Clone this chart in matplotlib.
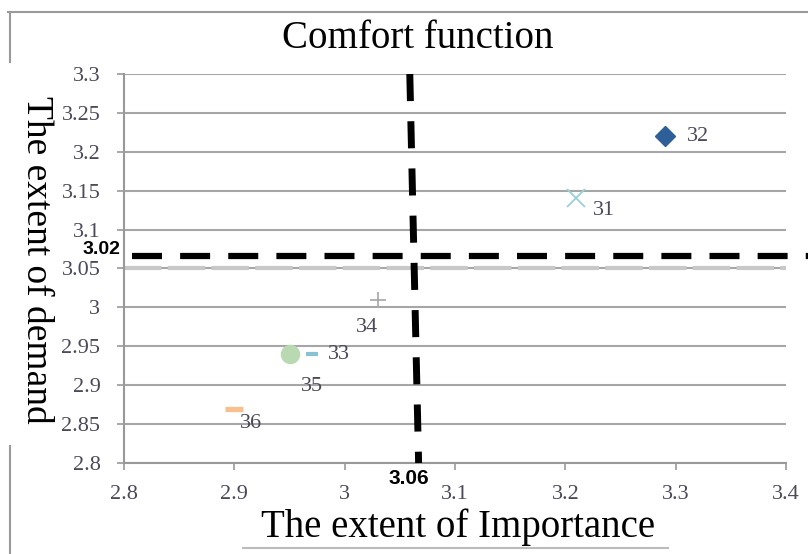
import matplotlib
matplotlib.use('Agg')
import matplotlib.pyplot as plt
from matplotlib.lines import Line2D

plt.rcParams['font.family'] = ['Liberation Serif', 'DejaVu Serif']

# data
ids = ['31', '32', '33', '34', '35', '36']
importance = [3.21, 3.29, 2.97, 3.03, 2.95, 2.90]
demand = [3.14, 3.22, 2.94, 3.01, 2.94, 2.87]
markers = ['x', 'D', '_', '+', 'o', '_']
colors = ['#9ccfdc', '#2f5f98', '#86c2d2', '#a6a6a6', '#b9d9b3', '#f9c08e']
sizes = [13, 10.5, 8, 12, 13, 13]
edge_w = [1.3, 1, 3, 1.2, 1, 3.8]
# label offsets in points
offsets = [(12, -9), (16, 0), (12, 0), (-16, -20), (8, -23), (4, -11)]

y_ticks = [2.8, 2.85, 2.9, 2.95, 3.0, 3.05, 3.1, 3.15, 3.2, 3.25, 3.3]
x_ticks = [2.8, 2.9, 3.0, 3.1, 3.2, 3.3, 3.4]
y_tick_labels = ['2.8', '2.85', '2.9', '2.95', '3', '3.05', '3.1', '3.15', '3.2', '3.25', '3.3']
x_tick_labels = ['2.8', '2.9', '3', '3.1', '3.2', '3.3', '3.4']

mean_demand = 3.066      # where the horizontal dashed line sits
mean_import = (3.059, 3.067)  # vertical line drawn slightly tilted (top, bottom)
demand_text = '3.02'
import_text = '3.06'

fig = plt.figure(figsize=(8.08, 5.54), dpi=100)
fig.patch.set_facecolor('white')
ax = fig.add_axes([0.1535, 0.1643, 0.8193, 0.7021])

ax.set_xlim(2.8, 3.4)
ax.set_ylim(2.8, 3.3)
ax.set_yticks(y_ticks)
ax.set_yticklabels(y_tick_labels)
ax.set_xticks(x_ticks)
ax.set_xticklabels(x_tick_labels)
ax.tick_params(axis='both', direction='out', length=5, width=1.2, color='#999999',
               labelsize=16, labelcolor='#4a4a58', labelfontfamily='Liberation Serif')
ax.tick_params(axis='y', pad=12)
ax.tick_params(axis='x', pad=11)

ax.grid(True, axis='y', color='#a6a6a6', linewidth=1.5)
ax.set_axisbelow(True)
for side in ['top', 'right']:
    ax.spines[side].set_visible(False)
for side in ['left', 'bottom']:
    ax.spines[side].set_color('#999999')
    ax.spines[side].set_linewidth(1.5)

# light grey dashed line on top of the 3.05 gridline
ax.axhline(3.05, color='#c8c8c8', linewidth=3, linestyle=(0, (9, 1.5)), zorder=2)

for i in range(len(ids)):
    ax.plot(importance[i], demand[i], linestyle='none', marker=markers[i],
            markersize=sizes[i], color=colors[i], markeredgecolor=colors[i],
            markeredgewidth=edge_w[i], zorder=4)
    ax.annotate(ids[i], (importance[i], demand[i]), xytext=offsets[i],
                textcoords='offset points', ha='left', va='center',
                fontsize=16, color='#4a4a58', zorder=5)

# black dashed reference lines
ax.plot([2.807, 3.42], [mean_demand, mean_demand], color='black', linewidth=4.5,
        linestyle=(0, (4.8, 2.9)), clip_on=False, zorder=6)
ax.plot([mean_import[0], mean_import[1]], [3.3, 2.8], color='black', linewidth=5,
        linestyle=(0, (3.9, 2.9)), clip_on=False, zorder=6)

fig.text(101 / 808, 1 - 250 / 554, demand_text, ha='center', va='center',
         fontsize=14, fontweight='bold', family='Liberation Sans')
fig.text(409 / 808, 1 - 479 / 554, import_text, ha='center', va='center',
         fontsize=15, fontweight='bold', family='Liberation Sans')

# titles
fig.text(418 / 808, 1 - 38 / 554, 'Comfort function', ha='center', va='center',
         fontsize=28)
fig.text(458 / 808, 1 - 527 / 554, 'The extent of Importance', ha='center', va='center',
         fontsize=28)
fig.text(36 / 808, 1 - 260 / 554, 'The extent of demand', ha='center', va='center',
         rotation=270, fontsize=27)

# chart frame remnants
frame = dict(color='#9a9a9a', linewidth=1.5, transform=fig.transFigure)
fig.add_artist(Line2D([8 / 808, 1], [1 - 12 / 554, 1 - 12 / 554], **frame))
fig.add_artist(Line2D([10 / 808, 10 / 808], [1 - 12 / 554, 1 - 62 / 554], **frame))
fig.add_artist(Line2D([10 / 808, 10 / 808], [1 - 446 / 554, 0], **frame))
fig.add_artist(Line2D([243 / 808, 668 / 808], [1 - 548 / 554, 1 - 548 / 554],
                      color='#bbbbbb', linewidth=1.5, transform=fig.transFigure))

fig.savefig('out.png', dpi=100, facecolor='white')
